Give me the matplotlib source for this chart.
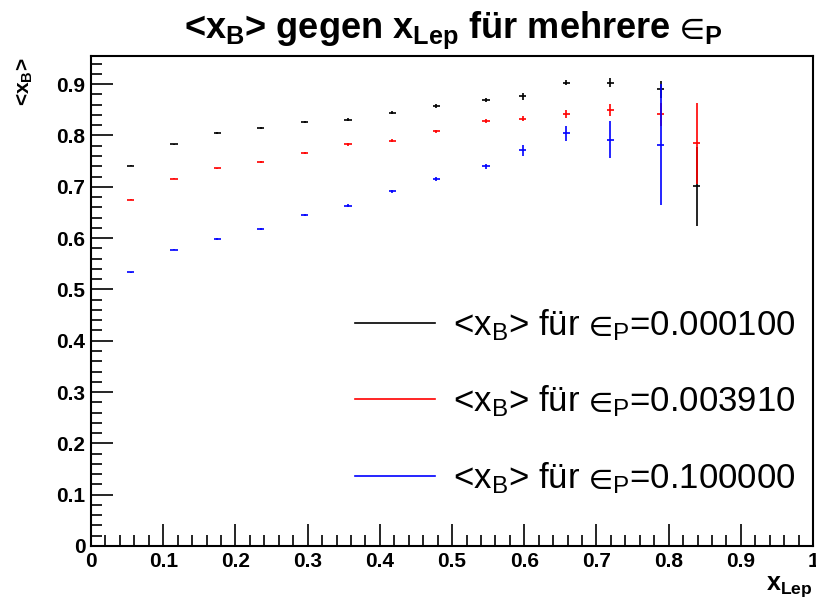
import matplotlib
matplotlib.use("Agg")
import matplotlib.pyplot as plt
from matplotlib.lines import Line2D
from matplotlib.ticker import MultipleLocator, FuncFormatter

plt.rcParams['font.family'] = ['Liberation Sans', 'DejaVu Sans']
plt.rcParams['mathtext.fontset'] = 'custom'
plt.rcParams['mathtext.rm'] = 'Liberation Sans'
plt.rcParams['mathtext.bf'] = 'Liberation Sans:bold'
plt.rcParams['mathtext.it'] = 'Liberation Sans:italic'
plt.rcParams['mathtext.fallback'] = 'stixsans'

# Mittelwerte <x_B> in Bins von x_Lep
x_lep = [0.055, 0.115, 0.175, 0.235, 0.296, 0.356, 0.417, 0.478, 0.547,
         0.598, 0.658, 0.719, 0.789, 0.839]
x_err = 0.005

xb_eps1 = [0.741, 0.783, 0.805, 0.814, 0.826, 0.831, 0.844, 0.857, 0.869,
           0.876, 0.903, 0.903, 0.890, 0.701]
err_eps1 = [0.001, 0.001, 0.0015, 0.002, 0.002, 0.003, 0.003, 0.004, 0.004,
            0.006, 0.005, 0.009, 0.016, 0.077]

xb_eps2 = [0.675, 0.716, 0.736, 0.749, 0.766, 0.783, 0.790, 0.808, 0.829,
           0.833, 0.842, 0.850, 0.841, 0.785]
err_eps2 = [0.001, 0.001, 0.0015, 0.002, 0.002, 0.003, 0.003, 0.003, 0.004,
            0.005, 0.007, 0.012, 0.023, 0.079]

xb_eps3 = [0.533, 0.577, 0.598, 0.618, 0.645, 0.663, 0.691, 0.715, 0.740,
           0.771, 0.804, 0.792, 0.782]
err_eps3 = [0.001, 0.001, 0.0015, 0.002, 0.002, 0.003, 0.003, 0.004, 0.005,
            0.011, 0.015, 0.036, 0.118]

eps_werte = ['0.000100', '0.003910', '0.100000']
farben = ['black', 'red', 'blue']

fig = plt.figure(figsize=(8.16, 6.08), dpi=100)
ax = fig.add_axes([0.1115, 0.102, 0.885, 0.806])

reihen = [(xb_eps1, err_eps1), (xb_eps2, err_eps2), (xb_eps3, err_eps3)]
handles, labels = [], []
for (werte, fehler), eps, farbe in zip(reihen, eps_werte, farben):
    n = len(werte)
    ax.errorbar(x_lep[:n], werte, xerr=x_err, yerr=fehler, fmt='none',
                ecolor=farbe, elinewidth=1.2, capsize=0)
    handles.append(Line2D([], [], color=farbe, lw=1.2))
    labels.append(r'<x$_\mathregular{B}$> für $∈_\mathregular{P}$=' + eps)

ax.set_xlim(0, 1)
ax.set_ylim(0, 0.955)
ax.xaxis.set_major_locator(MultipleLocator(0.1))
ax.xaxis.set_minor_locator(MultipleLocator(0.02))
ax.yaxis.set_major_locator(MultipleLocator(0.1))
ax.yaxis.set_minor_locator(MultipleLocator(0.02))
fmt = FuncFormatter(lambda v, pos: '%g' % round(v, 2))
ax.xaxis.set_major_formatter(fmt)
ax.yaxis.set_major_formatter(fmt)
ax.tick_params(which='both', direction='in', top=False, right=False, width=1.2)
ax.tick_params(which='major', length=15.5, labelsize=15, pad=4)
ax.tick_params(which='minor', length=8)
for lab in ax.get_xticklabels() + ax.get_yticklabels():
    lab.set_fontweight('bold')
for sp in ax.spines.values():
    sp.set_linewidth(1.5)

fig.text(0.555, 0.950, r'<x$_\mathbf{B}$> gegen x$_\mathbf{Lep}$ für mehrere $∈_\mathbf{P}$',
         ha='center', va='center', fontsize=26, fontweight='bold')
fig.text(0.03, 0.905, r'<x$_\mathbf{B}$>', rotation=90, ha='center', va='top',
         fontsize=15, fontweight='bold')
fig.text(0.996, 0.035, r'x$_\mathbf{Lep}$', ha='right', va='center',
         fontsize=18, fontweight='bold')

ax.legend(handles, labels, loc='upper left', bbox_to_anchor=(0.3657, 0.488),
          frameon=False, fontsize=25, handlelength=2.3, handletextpad=0.52,
          labelspacing=1.18, borderpad=0, borderaxespad=0)

fig.savefig('out.png', dpi=100)
